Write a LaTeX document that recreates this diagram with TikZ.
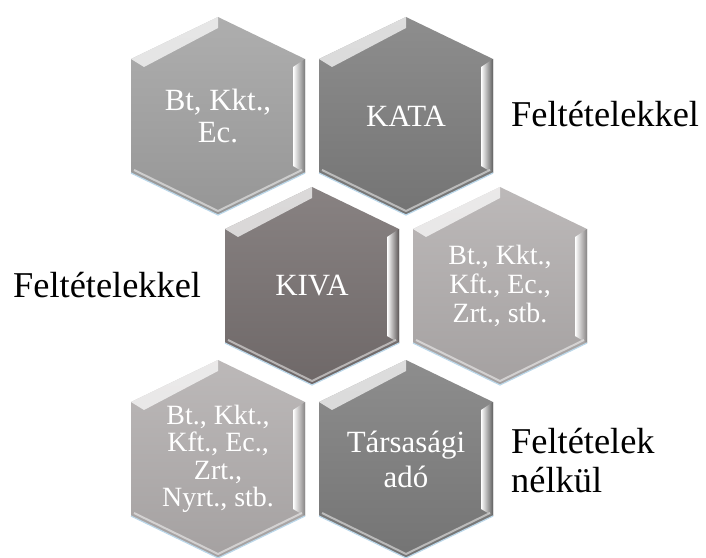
\documentclass[tikz,border=0pt]{standalone}
\usepackage{fontspec}
\setmainfont{Liberation Serif}
\usetikzlibrary{positioning}

\definecolor{hexlight}{HTML}{A3A3A3}
\definecolor{hexmid}{HTML}{7E7E7E}
\definecolor{hexwarm}{HTML}{787171}
\definecolor{hexpale}{HTML}{B3AFAF}
\definecolor{edgeblue}{HTML}{BCD8EA}

\begin{document}
\begin{tikzpicture}[x=1bp,y=-1bp,
  celltext/.style={text=white,align=center,inner sep=0pt},
  sidelabel/.style={font=\fontsize{36.5}{39}\selectfont,inner sep=0pt}]

  \useasboundingbox (0,0) rectangle (706,558);

  % hexagon cells
  \foreach \nm/\cx/\cy/\col/\fs/\ls/\txt in {
      bkk/218/116/hexlight/31/32/{Bt, Kkt.,\\Ec.},
      kata/406/116/hexmid/31/34/KATA,
      kiva/312/286/hexwarm/31/34/KIVA,
      kft/500/286/hexpale/28/29/{Bt., Kkt.,\\Kft., Ec.,\\Zrt., stb.},
      nyrt/218/459/hexpale/28/27.5/{Bt., Kkt.,\\Kft., Ec.,\\Zrt.,\\Nyrt., stb.},
      tao/406/459/hexmid/31/35/{Társasági\\adó}}
  {
    \begin{scope}[shift={(\cx,\cy)}]
      \shade[top color=\col!88!white, bottom color=\col!92!black]
        (0,-99) -- (87,-57) -- (87,57) -- (0,99) -- (-87,57) -- (-87,-57) -- cycle;
      % bevel
      \fill[white,opacity=.7] (-87,-57) -- (0,-99) -- (0,-88) -- (-74,-49) -- cycle;
      \shade[left color=white, right color=\col!75!black]
        (75,-49) -- (87,-57) -- (87,57) -- (75,50) -- cycle;
      \draw[white,opacity=.5,line width=2bp] (-84,54) -- (0,95) -- (84,54);
      \draw[edgeblue,line width=1.2bp] (-87,57) -- (0,99) -- (87,57);
      \node[celltext,font=\fontsize{\fs}{\ls}\selectfont] (\nm) at (0,0) {\txt};
    \end{scope}
  }

  \node[sidelabel,anchor=base west] (condkata) at (511,127) {Feltételekkel};
  \node[sidelabel,anchor=base west] (condkiva) at (13,297) {Feltételekkel};
  \node[sidelabel,anchor=base west,align=left] (condtao) at (511,492) {Feltételek\\nélkül};

\end{tikzpicture}
\end{document}
